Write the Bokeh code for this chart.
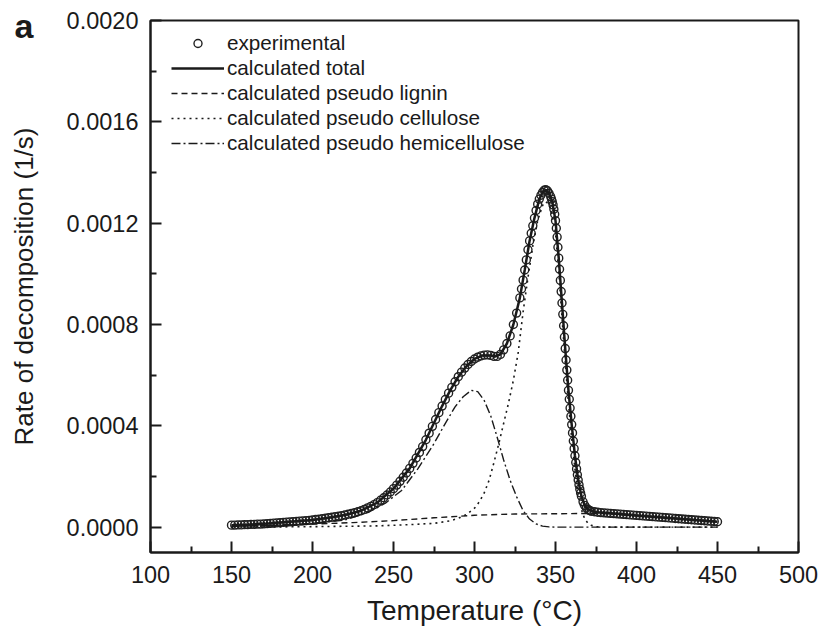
import numpy as np
from bokeh.plotting import figure
from bokeh.models import (Range1d, FixedTicker, NumeralTickFormatter, Legend,
                          LegendItem, LinearAxis, CustomJSTickFormatter)
from bokeh.embed import file_html
from bokeh.resources import INLINE

SCALE = 1e-4  # values below are in units of 1e-4 1/s

# ---- experimental points ----
exp_T_a = list(range(150, 329, 2))                 # 150..328 step 2
exp_r_a = [0.08, 0.08, 0.09, 0.09, 0.10, 0.10, 0.11, 0.11, 0.12, 0.12,
           0.13, 0.14, 0.15, 0.16, 0.17, 0.18, 0.19, 0.20, 0.21, 0.22,
           0.23, 0.24, 0.25, 0.26, 0.27, 0.28, 0.30, 0.31, 0.33, 0.35,
           0.37, 0.39, 0.41, 0.43, 0.45, 0.48, 0.51, 0.54, 0.57, 0.61,
           0.65, 0.70, 0.76, 0.82, 0.89, 0.97, 1.06, 1.16, 1.27, 1.39,
           1.52, 1.66, 1.81, 1.97, 2.14, 2.32, 2.52, 2.73, 2.95, 3.18,
           3.45, 3.71, 3.98, 4.25, 4.52, 4.78, 5.04, 5.29, 5.52, 5.74,
           5.94, 6.12, 6.28, 6.42, 6.54, 6.64, 6.71, 6.76, 6.79, 6.80,
           6.78, 6.74, 6.74, 6.82, 7.00, 7.25, 7.55, 8.00, 8.45, 9.05]
exp_T_b = list(range(329, 348))                    # 329..347 step 1
exp_r_b = [9.40, 9.75, 10.15, 10.55, 10.95, 11.30, 11.60, 11.90, 12.20, 12.50,
           12.75, 12.95, 13.10, 13.22, 13.30, 13.32, 13.28, 13.18, 13.05]
exp_T_c = list(np.arange(347.5, 366.01, 0.5))      # 347.5..366 step 0.5
exp_r_c = [12.95, 12.85, 12.72, 12.55, 12.35, 12.10, 11.80, 11.45, 11.05, 10.62,
           10.18, 9.74, 9.30, 8.85, 8.40, 7.95, 7.50, 7.05, 6.60, 6.20,
           5.80, 5.40, 5.05, 4.70, 4.38, 4.05, 3.72, 3.40, 3.10, 2.82,
           2.55, 2.30, 2.07, 1.86, 1.67, 1.50, 1.35, 1.22]
exp_T_d = [367, 368, 369, 370, 371]
exp_r_d = [1.00, 0.86, 0.76, 0.70, 0.66]
exp_T_e = list(range(372, 451, 2))                 # 372..450 step 2
exp_r_e = [0.63, 0.61, 0.59, 0.575, 0.565, 0.555, 0.545, 0.535, 0.525, 0.515,
           0.505, 0.495, 0.485, 0.475, 0.465, 0.455, 0.445, 0.435, 0.425, 0.415,
           0.405, 0.395, 0.385, 0.375, 0.365, 0.355, 0.345, 0.335, 0.325, 0.315,
           0.305, 0.295, 0.285, 0.275, 0.265, 0.255, 0.245, 0.235, 0.225, 0.215]

# ---- calculated total ----
tot_T = [150, 160, 170, 180, 190, 200, 210, 220, 230, 240,
         250, 260, 270, 280, 285, 290, 295, 300, 305, 310,
         313, 316, 320, 324, 328, 331, 334, 337, 340, 342,
         344, 346, 348, 350, 352, 354, 356, 358, 360, 362,
         364, 366, 368, 370, 373, 376, 380, 390, 400, 410,
         420, 430, 440, 450]
tot_r = [0.08, 0.10, 0.13, 0.18, 0.23, 0.28, 0.37, 0.48, 0.65, 0.97,
         1.52, 2.32, 3.45, 4.78, 5.40, 5.94, 6.35, 6.64, 6.78, 6.78,
         6.74, 6.82, 7.25, 8.00, 9.05, 10.15, 11.30, 12.20, 12.95, 13.22,
         13.32, 13.18, 12.85, 12.10, 10.62, 8.85, 7.05, 5.40, 4.05, 2.82,
         1.86, 1.22, 0.86, 0.70, 0.62, 0.59, 0.565, 0.515, 0.465, 0.415,
         0.365, 0.315, 0.265, 0.215]

# ---- pseudo lignin ----
lig_T = [150, 175, 200, 225, 250, 275, 300, 325, 350, 370, 380, 400, 425, 450]
lig_r = [0.03, 0.07, 0.12, 0.18, 0.26, 0.37, 0.47, 0.52, 0.53, 0.54, 0.54, 0.45, 0.34, 0.21]

# ---- pseudo cellulose ----
cel_T = [150, 200, 240, 260, 275, 285, 290, 295, 300, 303,
         306, 309, 312, 315, 318, 321, 324, 327, 330, 333,
         336, 339, 342, 344, 346, 348, 350, 352, 354, 356,
         358, 360, 362, 364, 366, 368, 370, 372, 375, 380, 450]
cel_r = [0.00, 0.02, 0.05, 0.10, 0.15, 0.25, 0.35, 0.50, 0.75, 1.00,
         1.35, 1.85, 2.55, 3.30, 4.10, 4.90, 5.80, 6.90, 8.50, 9.85,
         11.10, 12.10, 12.70, 12.85, 12.75, 12.30, 11.60, 10.10, 8.30, 6.50,
         4.90, 3.50, 2.30, 1.33, 0.69, 0.33, 0.16, 0.08, 0.02, 0.00, 0.00]

# ---- pseudo hemicellulose ----
hem_T = [150, 175, 200, 220, 235, 245, 255, 265, 275, 282,
         288, 293, 298, 302, 306, 310, 314, 318, 322, 326,
         330, 334, 338, 342, 346, 350, 400, 450]
hem_r = [0.04, 0.07, 0.14, 0.28, 0.60, 0.95, 1.45, 2.30, 3.30, 4.10,
         4.75, 5.15, 5.40, 5.35, 5.00, 4.40, 3.55, 2.65, 1.85, 1.20,
         0.65, 0.32, 0.13, 0.04, 0.01, 0.00, 0.00, 0.00]

x_ticks = [100, 150, 200, 250, 300, 350, 400, 450, 500]
x_minor = [125, 175, 225, 275, 325, 375, 425, 475]
y_ticks = [0.0, 0.0004, 0.0008, 0.0012, 0.0016, 0.0020]
y_minor = [0.0002, 0.0006, 0.0010, 0.0014, 0.0018]

legend_labels = ["experimental", "calculated total", "calculated pseudo lignin",
                 "calculated pseudo cellulose", "calculated pseudo hemicellulose"]
panel_letter = "a"

exp_T = exp_T_a + exp_T_b + exp_T_c + exp_T_d + exp_T_e
exp_r = exp_r_a + exp_r_b + exp_r_c + exp_r_d + exp_r_e
assert len(exp_T) == len(exp_r), (len(exp_T), len(exp_r))
assert len(tot_T) == len(tot_r)
assert len(lig_T) == len(lig_r)
assert len(cel_T) == len(cel_r)
assert len(hem_T) == len(hem_r)

def sc(v):
    return [x * SCALE for x in v]

FONT = "Liberation Sans"
INK = "#1a1a1a"

p = figure(width=823, height=630, output_backend="svg", toolbar_location=None,
           x_range=Range1d(100, 500), y_range=Range1d(-0.0001, 0.0020),
           min_border_left=150, min_border_right=25, min_border_top=20,
           min_border_bottom=78)
p.grid.visible = False
p.background_fill_color = "white"
p.border_fill_color = "white"
p.outline_line_color = INK
p.outline_line_width = 2

p.xaxis.ticker = FixedTicker(ticks=x_ticks, minor_ticks=x_minor)
p.yaxis.ticker = FixedTicker(ticks=y_ticks, minor_ticks=y_minor)
p.yaxis.formatter = NumeralTickFormatter(format="0.0000")
for ax in (p.xaxis[0], p.yaxis[0]):
    ax.axis_line_color = INK
    ax.axis_line_width = 2
    ax.major_tick_line_color = INK
    ax.major_tick_line_width = 2
    ax.minor_tick_line_color = INK
    ax.minor_tick_line_width = 2
    ax.major_tick_in = 11
    ax.major_tick_out = 0
    ax.minor_tick_in = 6
    ax.minor_tick_out = 0
    ax.major_label_text_font = FONT
    ax.major_label_text_font_size = "23.5px"
    ax.major_label_text_color = INK
p.xaxis.axis_label = "Temperature (°C)"
p.xaxis.axis_label_text_font = FONT
p.xaxis.axis_label_text_font_size = "28px"
p.xaxis.axis_label_text_font_style = "normal"
p.xaxis.axis_label_text_color = INK
p.xaxis.major_label_standoff = 13
p.xaxis.axis_label_standoff = 9
p.yaxis.major_label_standoff = 12

# outer left axis: carries the panel letter as its only tick label and the y title
outer = LinearAxis(ticker=FixedTicker(ticks=[0.001978], minor_ticks=[]),
                   formatter=CustomJSTickFormatter(code="return '%s'" % panel_letter),
                   axis_line_color=None, major_tick_line_color=None,
                   minor_tick_line_color=None, major_tick_in=0, major_tick_out=0,
                   major_label_standoff=30,
                   major_label_text_font=FONT, major_label_text_font_style="bold",
                   major_label_text_font_size="34px", major_label_text_color=INK,
                   axis_label="Rate of decomposition (1/s)",
                   axis_label_text_font=FONT, axis_label_text_font_size="26px",
                   axis_label_text_font_style="normal", axis_label_text_color=INK,
                   axis_label_standoff=-27)
p.add_layout(outer, "left")

r_exp = p.scatter(exp_T, sc(exp_r), marker="circle", size=8, fill_color=None,
                  line_color="#202020", line_width=1.4)
r_lig = p.line(lig_T, sc(lig_r), line_color=INK, line_width=1.4, line_dash="6 4")
r_cel = p.line(cel_T, sc(cel_r), line_color=INK, line_width=1.6, line_dash="2 4")
r_hem = p.line(hem_T, sc(hem_r), line_color=INK, line_width=1.4, line_dash="9 3 2 3")
r_tot = p.line(tot_T, sc(tot_r), line_color=INK, line_width=2.5)

legend = Legend(items=[LegendItem(label=legend_labels[0], renderers=[r_exp]),
                       LegendItem(label=legend_labels[1], renderers=[r_tot]),
                       LegendItem(label=legend_labels[2], renderers=[r_lig]),
                       LegendItem(label=legend_labels[3], renderers=[r_cel]),
                       LegendItem(label=legend_labels[4], renderers=[r_hem])],
                location=(21, 397))
legend.border_line_color = None
legend.background_fill_alpha = 0
legend.padding = 0
legend.margin = 0
legend.spacing = 1
legend.glyph_width = 53
legend.glyph_height = 20
legend.label_height = 20
legend.label_standoff = 3
legend.label_text_font = FONT
legend.label_text_font_size = "20.7px"
legend.label_text_color = INK
p.add_layout(legend)

open("out.html", "w").write(file_html(p, INLINE))
